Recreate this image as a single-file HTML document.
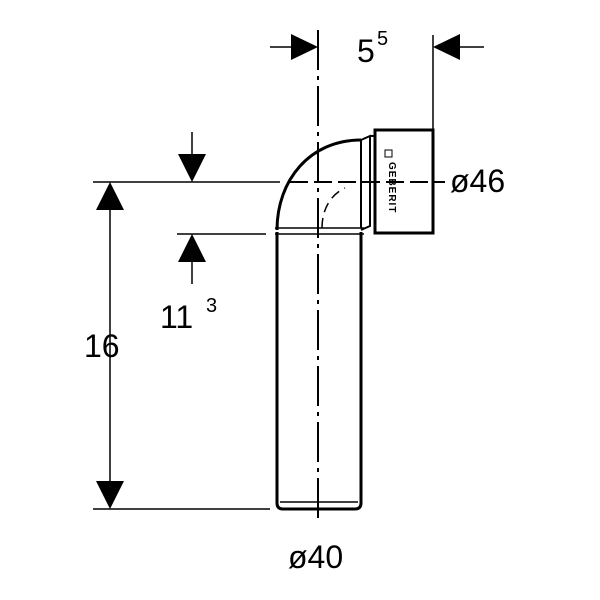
<!DOCTYPE html>
<html><head><style>body{margin:0;background:#fff}svg{display:block}</style></head><body>
<svg width="600" height="600" viewBox="0 0 600 600" xmlns="http://www.w3.org/2000/svg" font-family="Liberation Sans, sans-serif">
<g stroke="#000" fill="none">
<!-- centerlines -->
<line x1="318" y1="30" x2="318" y2="522" stroke-width="2" stroke-dasharray="40,6,4,6"/>
<line x1="290" y1="182" x2="445" y2="182" stroke-width="2" stroke-dasharray="18,6"/>
<!-- pipe -->
<path d="M277 232 L277 503 Q277 509 283 509 L355 509 Q361 509 361 503 L361 232" stroke-width="3"/>
<line x1="280" y1="502" x2="358" y2="502" stroke-width="1.5"/>
<line x1="275" y1="228" x2="364" y2="228" stroke-width="1.5"/>
<line x1="275" y1="234" x2="364" y2="234" stroke-width="1.5"/>
<!-- elbow -->
<path d="M277 230 C277 180 310 140 361 140" stroke-width="3"/>
<path d="M322 228 C322 210 330 195 345 188" stroke-width="1.5" stroke-dasharray="10,6"/>
<line x1="361" y1="140" x2="361" y2="228" stroke-width="2"/>
<path d="M361 140 L370 136 L370 226 L361 230" stroke-width="2"/>
<rect x="375" y="130" width="58" height="103" stroke-width="3"/>
<line x1="370" y1="136" x2="375" y2="136" stroke-width="2"/>
<!-- dims -->
<line x1="433" y1="35" x2="433" y2="130" stroke-width="1.5"/>
<line x1="270" y1="47" x2="296" y2="47" stroke-width="1.5"/>
<line x1="458" y1="47" x2="484" y2="47" stroke-width="1.5"/>
<line x1="93" y1="182" x2="280" y2="182" stroke-width="1.5"/>
<line x1="93" y1="509" x2="270" y2="509" stroke-width="1.5"/>
<line x1="110" y1="205" x2="110" y2="485" stroke-width="1.5"/>
<line x1="192" y1="132" x2="192" y2="160" stroke-width="1.5"/>
<line x1="177" y1="234" x2="266" y2="234" stroke-width="1.5"/>
<line x1="192" y1="260" x2="192" y2="284" stroke-width="1.5"/>
</g>
<g fill="#000">
<polygon points="318,47 291,34 291,60"/>
<polygon points="433,47 460,34 460,60"/>
<polygon points="110,182 96,210 124,210"/>
<polygon points="110,509 96,481 124,481"/>
<polygon points="192,182 178,154 206,154"/>
<polygon points="192,234 178,262 206,262"/>
<rect x="385" y="150" width="7" height="7" fill="none" stroke="#000" stroke-width="1"/>
<text x="389" y="162" font-size="10" font-weight="bold" transform="rotate(90 389 162)" letter-spacing="1">GEBERIT</text>
<text x="357" y="62" font-size="32">5</text>
<text x="377" y="45" font-size="20">5</text>
<text x="450" y="192" font-size="32">ø46</text>
<text x="84" y="357" font-size="32">16</text>
<text x="160" y="328" font-size="32">11</text>
<text x="206" y="312" font-size="20">3</text>
<text x="288" y="568" font-size="32">ø40</text>
</g>
</svg>
</body></html>
